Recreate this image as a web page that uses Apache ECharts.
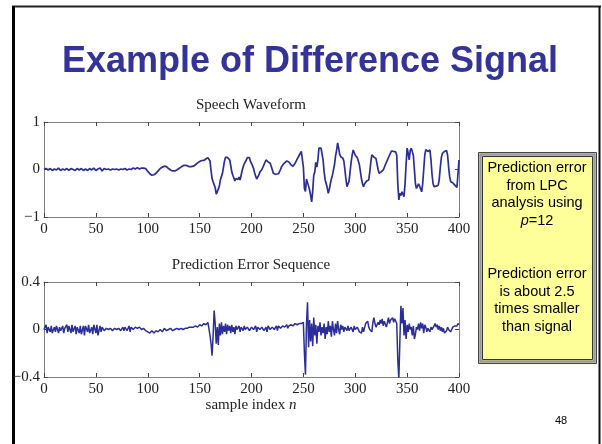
<!DOCTYPE html>
<html>
<head>
<meta charset="utf-8">
<script src="https://cdn.jsdelivr.net/npm/echarts@6/dist/echarts.min.js"></script>
<style>
  body { margin: 0; background: #fff; }
  #main { width: 602px; height: 444px; }
</style>
</head>
<body>
<div id="main"></div>
<script>
// tick values
var xTicks = [0, 50, 100, 150, 200, 250, 300, 350, 400];
var speechTicks = [-1, 0, 1];
var errorTicks = [-0.4, 0, 0.4];

// speech waveform, [sample index, amplitude]
var speechPts = [
  [0,0],[2,0.02],[4,-0.01],[6,0.02],[8,-0.02],[10,0.01],[12,-0.01],[14,0.03],[16,-0.02],[18,0.01],
  [20,-0.01],[22,0.02],[24,-0.02],[26,0.02],[28,0],[30,-0.02],[32,0.02],[34,-0.01],[36,0.02],[38,-0.02],
  [40,0.01],[42,-0.02],[44,0.02],[46,-0.01],[48,0.03],[50,-0.02],[52,0.01],[54,0.03],[56,-0.03],[58,0.02],
  [60,0],[62,0.01],[64,-0.01],[66,0.01],[68,0],[70,0.01],[72,-0.01],[74,0.01],[76,0],[78,0.02],
  [80,-0.01],[82,0.01],[84,0],[86,0.03],[88,0.01],[90,0.04],[92,0.01],[94,0.03],[96,0.03],[98,0.02],
  [100,-0.04],[102,-0.09],[104,-0.12],[106,-0.11],[108,-0.08],[110,-0.03],[112,0.02],[114,0.05],[116,0.07],[118,0.06],
  [120,0.02],[122,-0.01],[124,-0.03],[126,-0.03],[128,-0.01],[130,0.02],[132,0.05],[134,0.08],[136,0.09],[138,0.08],
  [140,0.06],[142,0.06],[144,0.07],[146,0.1],[148,0.14],[150,0.17],[152,0.19],[154,0.19],[156,0.22],[158,0.25],
  [159,0.26],[160,0.18],[161,-0.02],[162,-0.19],[163,-0.26],[164,-0.22],[165,-0.38],[166,-0.52],[167,-0.47],[168,-0.43],
  [169,-0.35],[170,-0.22],[171,-0.15],[172,-0.08],[173,0.05],[174,0.18],[175,0.26],[176,0.29],[177,0.25],[178,0.22],
  [179,0.2],[180,0.08],[181,-0.05],[182,-0.12],[183,-0.18],[184,-0.24],[185,-0.19],[186,-0.17],[187,-0.21],[188,-0.16],
  [189,-0.22],[190,-0.12],[191,-0.02],[192,0.06],[193,0.12],[194,0.16],[195,0.2],[196,0.25],[197,0.29],[198,0.25],
  [199,0.17],[200,0.13],[201,0.08],[202,0.02],[203,-0.07],[204,-0.14],[205,-0.2],[206,-0.17],[207,-0.12],[208,-0.06],
  [210,0],[212,0.1],[214,0.2],[216,0.16],[218,0.13],[219,0.07],[220,0],[221,-0.08],[223,-0.1],[226,-0.09],
  [228,0],[229,0.06],[231,0.12],[234,0.18],[236,0.16],[238,0.1],[240,0.07],[242,0.13],[244,0.22],[246,0.3],
  [248,0.38],[249,0.34],[250,0.05],[251,-0.4],[252,-0.46],[253,-0.2],[254,-0.19],[255,-0.35],[256,-0.43],[257,-0.55],
  [258,-0.68],[259,-0.45],[260,-0.12],[261,-0.05],[262,0.15],[263,0.05],[264,0.2],[265,0.45],[266,0.46],[267,0.45],
  [268,0.42],[269,0.2],[270,-0.05],[271,-0.22],[272,-0.3],[273,-0.38],[274,-0.5],[275,-0.42],[276,-0.3],[277,-0.2],
  [278,-0.12],[279,-0.08],[280,0.1],[281,0.28],[282,0.4],[283,0.56],[284,0.45],[285,0.32],[286,0.27],[287,0.25],
  [288,0.24],[289,0.18],[290,0],[291,-0.2],[292,-0.36],[293,-0.34],[294,-0.25],[295,-0.05],[296,0.15],[297,0.3],
  [298,0.41],[299,0.38],[300,0.3],[301,0.26],[302,0.25],[303,0.23],[304,0.1],[305,-0.05],[306,-0.2],[307,-0.3],
  [308,-0.36],[309,-0.3],[310,-0.26],[311,-0.24],[312,-0.23],[313,-0.22],[314,-0.05],[315,0.15],[316,0.31],[317,0.27],
  [318,0.26],[319,0.25],[320,0.23],[321,0.12],[322,0],[323,-0.08],[324,-0.06],[325,-0.05],[327,-0.01],[329,0.1],
  [331,0.2],[333,0.3],[335,0.39],[336,0.39],[339,0.37],[340,0.3],[341,-0.3],[342,-0.64],[343,-0.5],[344,-0.55],
  [345,-0.47],[346,-0.52],[347,-0.57],[348,-0.3],[349,0.1],[350,0.45],[351,0.35],[352,0.2],[353,0.4],[354,0.45],
  [355,0.45],[356,0.3],[357,0],[358,-0.3],[359,-0.4],[360,-0.38],[361,-0.3],[362,-0.35],[363,-0.33],[364,-0.47],
  [365,-0.3],[366,0],[367,0.3],[368,0.42],[369,0.4],[370,0.38],[371,0.4],[372,0.41],[373,0.2],[374,-0.1],
  [375,-0.3],[376,-0.36],[377,-0.34],[378,-0.35],[379,-0.32],[380,-0.33],[381,-0.2],[382,0.05],[383,0.25],[384,0.34],
  [385,0.36],[386,0.38],[387,0.39],[388,0.4],[389,0.3],[390,0.05],[391,-0.15],[392,-0.26],[393,-0.27],[394,-0.28],
  [395,-0.3],[396,-0.33],[397,-0.3],[398,-0.38],[399,-0.1],[400,0.2]
];

// prediction error sequence, [sample index, amplitude]
var errorPts = [
  [0,0],[2,0.04],[3,-0.03],[4,0.02],[6,-0.02],[7,0.03],[8,-0.03],[10,0.02],[11,-0.02],[12,0.03],
  [14,-0.03],[15,0.02],[16,-0.01],[18,0.03],[19,-0.03],[20,0.01],[22,0.04],[23,-0.02],[24,0.03],[26,-0.03],
  [27,0.04],[28,-0.02],[30,0.03],[31,-0.04],[32,0.02],[34,-0.03],[35,0.03],[36,-0.04],[38,0.03],[39,-0.05],
  [40,0.03],[42,-0.02],[43,0.04],[44,-0.03],[46,0.02],[47,-0.04],[48,0.04],[50,-0.03],[51,0.04],[52,-0.05],
  [54,0.03],[55,-0.02],[56,0.02],[58,-0.01],[60,0.01],[62,0],[64,0.01],[66,-0.01],[68,0.01],[70,0],
  [72,0.01],[74,-0.01],[76,0.02],[77,-0.01],[78,0.02],[80,-0.01],[82,0.03],[83,-0.02],[84,0.02],[86,0],
  [88,0.02],[90,0.01],[92,0.02],[94,0],[96,0.01],[98,-0.01],[100,-0.02],[102,-0.03],[104,-0.01],[106,-0.03],
  [108,-0.01],[110,-0.02],[112,0],[114,-0.02],[116,0.01],[118,-0.01],[120,0],[122,0.01],[124,-0.01],[126,0],
  [128,0.01],[130,0],[132,0.01],[134,0],[136,0.01],[138,0.01],[140,0.02],[142,0.02],[144,0.02],[146,0.03],
  [148,0.02],[150,0.04],[152,0.03],[154,0.05],[156,0.04],[158,0.06],[159,0.05],[160,-0.05],[161,-0.12],[162,-0.22],
  [163,-0.05],[164,0.16],[165,0.05],[166,-0.12],[167,0.02],[168,-0.13],[169,0.05],[170,-0.05],[171,0.06],[172,-0.04],
  [173,0.03],[174,-0.02],[175,0.05],[176,-0.04],[177,0.04],[178,-0.01],[179,0.03],[180,-0.03],[181,0.04],[182,-0.02],
  [183,0.02],[184,-0.04],[185,0.03],[186,0],[188,0.03],[189,-0.02],[190,0.02],[192,-0.01],[193,0.03],[194,0],
  [196,0.02],[198,-0.01],[200,0.02],[202,0],[204,0.03],[205,-0.02],[206,0.02],[208,0],[210,0.02],[212,-0.01],
  [214,0.02],[215,-0.02],[216,0.03],[218,0],[220,0.02],[222,0],[224,0.03],[225,-0.01],[226,0.03],[228,0.01],
  [230,0.03],[232,0.02],[234,0.04],[235,0.01],[236,0.03],[238,0.04],[240,0.03],[242,0.05],[244,0.04],[246,0.05],
  [248,0.05],[250,0.06],[251,-0.2],[252,-0.38],[253,0.05],[254,0.23],[255,-0.15],[256,0.08],[257,-0.1],[258,0.05],
  [259,-0.14],[260,0.1],[261,-0.05],[262,0.04],[263,-0.12],[264,0.03],[265,-0.02],[266,0.06],[267,-0.05],[268,0.02],
  [269,-0.03],[270,0.05],[271,-0.08],[272,0.02],[273,-0.04],[274,0.07],[275,-0.02],[276,0.03],[277,-0.06],[278,0.07],
  [279,0],[280,-0.05],[281,0.05],[282,-0.03],[283,0.07],[284,0],[285,-0.04],[286,0.04],[287,0],[288,0.03],
  [289,-0.02],[290,0.02],[292,-0.01],[293,0.03],[294,-0.01],[296,0.02],[298,-0.02],[299,0.03],[300,0],[302,0.02],
  [304,-0.02],[306,-0.03],[307,0.02],[308,-0.02],[310,0.05],[312,0.07],[313,0.02],[314,0],[316,-0.02],[317,0.06],
  [318,0.1],[319,0.05],[320,0.02],[322,0.06],[323,0.04],[324,0.08],[325,0.05],[326,0.09],[327,0.03],[328,0.07],
  [330,0.02],[331,0.06],[332,0.1],[333,0.05],[334,0.08],[336,0.1],[337,0.06],[338,0.09],[339,0.08],[340,0.05],
  [341,-0.25],[342,-0.42],[343,-0.1],[344,0.2],[345,0.05],[346,0.18],[347,-0.05],[348,0.08],[349,-0.08],[350,0.04],
  [351,-0.02],[352,0.05],[353,0],[354,0.02],[355,-0.05],[356,0.03],[357,-0.08],[358,-0.04],[359,0.02],[360,0],
  [361,0.05],[362,-0.01],[363,0.06],[364,0.01],[365,0.05],[366,-0.03],[367,0.04],[368,0.02],[369,-0.02],[370,0.01],
  [372,-0.02],[373,0.02],[374,0],[376,0.03],[377,0.05],[378,0.02],[379,0.04],[380,0],[381,0.03],[382,-0.01],
  [383,0.02],[384,-0.02],[385,0.01],[386,-0.03],[388,-0.01],[389,0.02],[390,0],[392,-0.02],[393,0],[394,0.02],
  [396,0.03],[397,0.02],[398,0.03],[399,0.05],[400,0.04]
];

var serif = '"Liberation Serif", "Times New Roman", serif';
var sans = '"Liberation Sans", Arial, sans-serif';
var frameColor = '#808080';
var lineColor = '#2b2d9b';

function minus(v) {
  return v < 0 ? '\u2212' + Math.abs(v) : String(v);
}

function xAxisFor(grid, pos, showLabel) {
  return {
    type: 'value', gridIndex: grid, position: pos,
    min: xTicks[0], max: xTicks[xTicks.length - 1], interval: xTicks[1] - xTicks[0],
    axisLine: { show: true, onZero: false, lineStyle: { color: frameColor, width: 1 } },
    axisTick: { show: true, inside: true, length: 4, lineStyle: { color: '#444' } },
    axisLabel: { show: showLabel, margin: 5, color: '#222', fontFamily: serif, fontSize: 15 },
    splitLine: { show: false }
  };
}

function yAxisFor(grid, pos, ticks, showLabel) {
  return {
    type: 'value', gridIndex: grid, position: pos,
    min: ticks[0], max: ticks[ticks.length - 1], interval: ticks[1] - ticks[0],
    axisLine: { show: true, onZero: false, lineStyle: { color: frameColor, width: 1 } },
    axisTick: { show: true, inside: true, length: 4, lineStyle: { color: '#444' } },
    axisLabel: { show: showLabel, margin: 4, color: '#222', fontFamily: serif, fontSize: 15, formatter: minus },
    splitLine: { show: false }
  };
}

var chart = echarts.init(document.getElementById('main'));

var boxLines1 = ['Prediction error', 'from LPC', 'analysis using', '{i|p}=12'];
var boxLines2 = ['Prediction error', 'is about 2.5', 'times smaller', 'than signal'];
var boxText = [];
boxLines1.forEach(function (t, i) {
  boxText.push({ type: 'text', x: 537, y: 168 + i * 17.6, z: 20,
    style: { text: t, fill: '#000', font: '14.5px ' + sans, align: 'center', verticalAlign: 'middle',
      rich: { i: { fontStyle: 'italic', fontSize: 14.5, fontFamily: sans } } } });
});
boxLines2.forEach(function (t, i) {
  boxText.push({ type: 'text', x: 537, y: 274 + i * 17.6, z: 20,
    style: { text: t, fill: '#000', font: '14.5px ' + sans, align: 'center', verticalAlign: 'middle' } });
});

chart.setOption({
  animation: false,
  grid: [
    { left: 44, top: 122, width: 415, height: 95 },
    { left: 44, top: 282, width: 415, height: 95 }
  ],
  xAxis: [
    xAxisFor(0, 'bottom', true), xAxisFor(0, 'top', false),
    xAxisFor(1, 'bottom', true), xAxisFor(1, 'top', false)
  ],
  yAxis: [
    yAxisFor(0, 'left', speechTicks, true), yAxisFor(0, 'right', speechTicks, false),
    yAxisFor(1, 'left', errorTicks, true), yAxisFor(1, 'right', errorTicks, false)
  ],
  series: [
    { type: 'line', xAxisIndex: 0, yAxisIndex: 0, data: speechPts, showSymbol: false, clip: true,
      lineStyle: { color: lineColor, width: 1.7 } },
    { type: 'line', xAxisIndex: 2, yAxisIndex: 2, data: errorPts, showSymbol: false, clip: true,
      lineStyle: { color: lineColor, width: 1.5 } }
  ],
  graphic: [
    // slide frame
    { type: 'line', shape: { x1: 12, y1: 6.5, x2: 601, y2: 6.5 }, style: { stroke: '#222', lineWidth: 2 } },
    { type: 'line', shape: { x1: 13.5, y1: 6, x2: 13.5, y2: 444 }, style: { stroke: '#000', lineWidth: 3 } },
    { type: 'line', shape: { x1: 599.5, y1: 6, x2: 599.5, y2: 444 }, style: { stroke: '#111', lineWidth: 2 } },
    // slide title
    { type: 'text', x: 310, y: 62,
      style: { text: 'Example of Difference Signal', fill: '#333399', font: 'bold 36px ' + sans,
        align: 'center', verticalAlign: 'middle' } },
    // plot titles
    { type: 'text', x: 251, y: 105,
      style: { text: 'Speech Waveform', fill: '#222', font: '15px ' + serif, align: 'center', verticalAlign: 'middle' } },
    { type: 'text', x: 251, y: 265,
      style: { text: 'Prediction Error Sequence', fill: '#222', font: '15px ' + serif, align: 'center', verticalAlign: 'middle' } },
    { type: 'text', x: 251, y: 405,
      style: { text: 'sample index {i|n}', fill: '#222', font: '15px ' + serif, align: 'center', verticalAlign: 'middle',
        rich: { i: { fontStyle: 'italic', fontSize: 15, fontFamily: serif } } } },
    // yellow note box with double border
    { type: 'rect', shape: { x: 478.5, y: 152.5, width: 118, height: 211 }, z: 10,
      style: { fill: '#ffff99', stroke: '#444', lineWidth: 1 } },
    { type: 'rect', shape: { x: 480.5, y: 154.5, width: 114, height: 207 }, z: 11,
      style: { fill: null, stroke: '#999', lineWidth: 2.5 } },
    { type: 'rect', shape: { x: 482.5, y: 156.5, width: 110, height: 203 }, z: 12,
      style: { fill: null, stroke: '#333', lineWidth: 1 } },
    // page number
    { type: 'text', x: 561, y: 421,
      style: { text: '48', fill: '#000', font: '11px ' + sans, align: 'center', verticalAlign: 'middle' } }
  ].concat(boxText)
});
</script>
</body>
</html>
